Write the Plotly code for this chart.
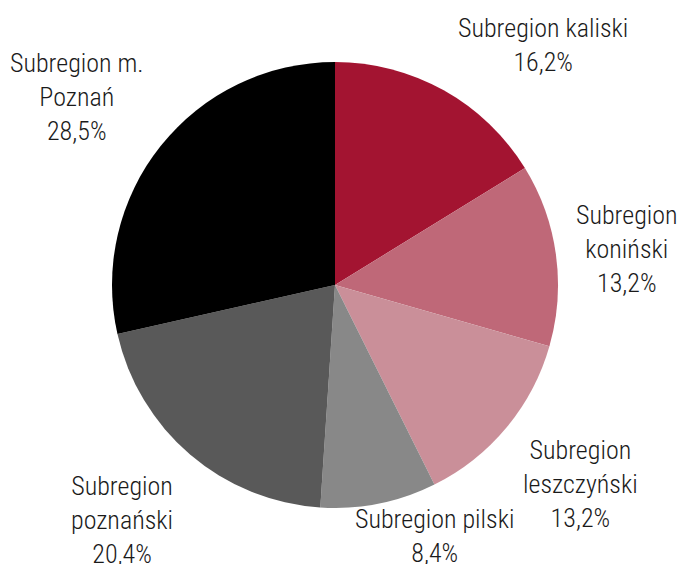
import plotly.graph_objects as go

categories = ["Subregion kaliski", "Subregion koniński", "Subregion leszczyński",
              "Subregion pilski", "Subregion poznański", "Subregion m. Poznań"]
values = [16.2, 13.2, 13.2, 8.4, 20.4, 28.5]
label_lines = ["Subregion kaliski", "Subregion<br>koniński", "Subregion<br>leszczyński",
               "Subregion pilski", "Subregion<br>poznański", "Subregion m.<br>Poznań"]
colors = ["#A31431", "#BF6878", "#CA8F99", "#888888", "#595959", "#000000"]
# label block centres (pixels from top-left)
label_pos = [(543, 45), (627, 249), (580, 484), (434, 536), (122, 520), (77, 97)]

texts = [f"{l}<br>{str(v).replace('.', ',')}%" for l, v in zip(label_lines, values)]

W, H = 677, 564
cx, cy, r = 335, 285, 223

fig = go.Figure(go.Pie(
    labels=categories, values=values,
    textinfo="none",
    sort=False, direction="clockwise", rotation=0,
    marker=dict(colors=colors, line=dict(width=0)),
    domain=dict(x=[(cx - r) / W, (cx + r) / W], y=[(H - cy - r) / H, (H - cy + r) / H]),
    showlegend=False, hoverinfo="label+percent",
))
for t, (px, py) in zip(texts, label_pos):
    fig.add_annotation(text=t, x=px / W, y=1 - py / H, xref="paper", yref="paper",
                       xanchor="center", yanchor="middle", showarrow=False, align="center",
                       font=dict(family="Roboto Condensed, Liberation Sans Narrow, Roboto",
                                 size=26, color="#1a1a1a", weight=300))
fig.update_layout(width=W, height=H, margin=dict(l=0, r=0, t=0, b=0),
                  paper_bgcolor="white", plot_bgcolor="white")
fig.write_html("out.html", config={"displayModeBar": False},
               post_script="document.body.style.margin='0';document.body.style.padding='0';"
                           "document.body.style.overflow='hidden';")
